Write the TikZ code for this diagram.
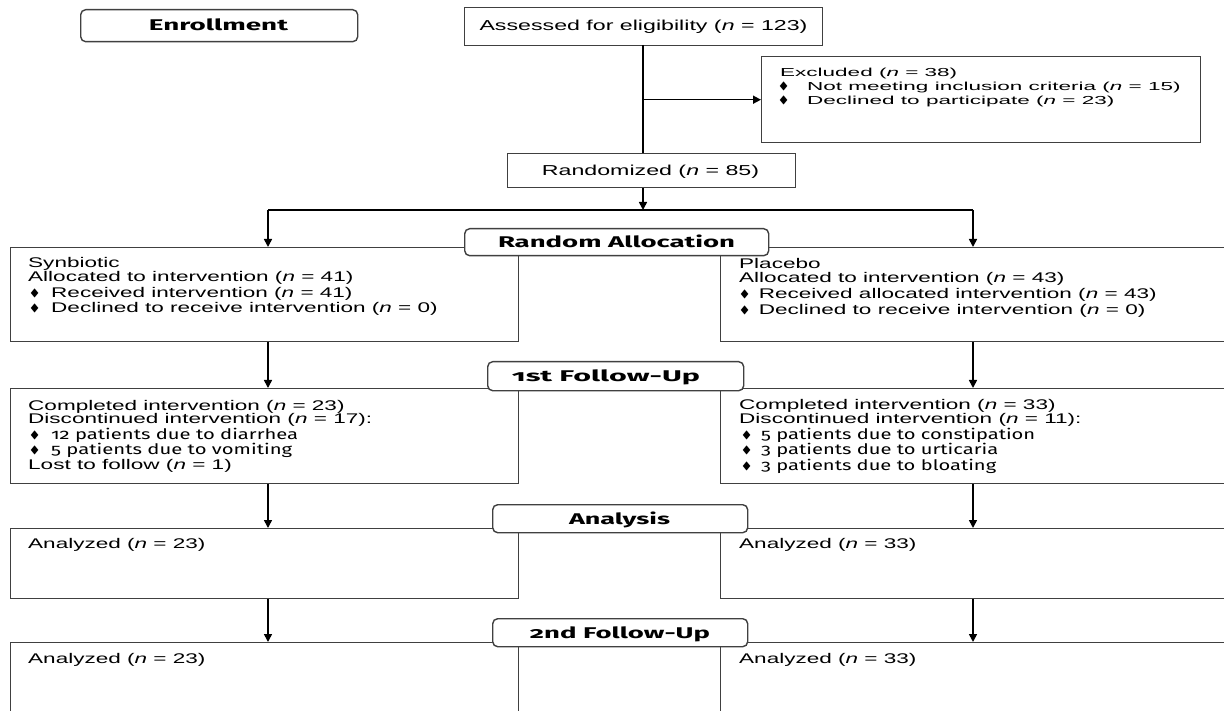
\documentclass[tikz,border=0pt]{standalone}
\usepackage{fontspec}
\usepackage{amssymb}
\usepackage{graphicx}
\setmainfont{Liberation Sans}
\newfontfamily\hfont[Numbers=OldStyle]{Fira Sans}
\usetikzlibrary{arrows.meta}
\newcommand{\sx}[1]{\scalebox{1.61}[1]{#1}}
\newcommand{\ex}[1]{\scalebox{1.94}[1]{#1}}
\newcommand{\fw}[2]{\resizebox{#1pt}{\height}{\hfont\fontsize{14.5}{16}\selectfont #2}}
\newcommand{\hw}[2]{\resizebox{#1pt}{\height}{\hfont\bfseries\fontsize{15.5}{17}\selectfont #2}}
\newcommand{\blt}{\raisebox{1pt}{\scalebox{1.3}[1]{\fontsize{10.5}{10}\selectfont$\blacklozenge$}}}
\newcommand{\nn}{\textit{n}}
\tikzset{
  box/.style={draw=black!75, line width=1.4pt, rectangle, inner sep=0pt, anchor=north west},
  hdr/.style={draw=black!75, line width=1.4pt, rounded corners=5pt, fill=white, rectangle, inner sep=0pt, anchor=north west},
  htxt/.style={anchor=base, inner sep=0pt},
  txt/.style={anchor=base west, inner sep=0pt, font=\fontsize{14}{16}\selectfont},
  etxt/.style={anchor=base west, inner sep=0pt, font=\fontsize{11.6}{14}\selectfont},
  ctxt/.style={anchor=base, inner sep=0pt, font=\fontsize{14.4}{16}\selectfont},
  ln/.style={line width=1.6pt, black},
  arr/.style={line width=1.6pt, black, -{Triangle[length=8pt,width=8pt]}},
}
\begin{document}
\begin{tikzpicture}[x=1pt,y=-1pt]
\useasboundingbox (0,0) rectangle (1224,711);
\fill[white] (0,0) rectangle (1224,711);
\clip (0,0) rectangle (1224,711);

% boxes
\node[box, minimum width=358pt, minimum height=38pt] (assess) at (464,7) {};
\node[box, minimum width=439pt, minimum height=86pt] (excl) at (761,56) {};
\node[box, minimum width=288pt, minimum height=34pt] (rand) at (507,153) {};
\node[box, minimum width=508pt, minimum height=94pt] (syn) at (10,247) {};
\node[box, minimum width=520pt, minimum height=94pt] (plc) at (720,247) {};
\node[box, minimum width=508pt, minimum height=95pt] (comp1) at (10,388) {};
\node[box, minimum width=520pt, minimum height=95pt] (comp2) at (720,388) {};
\node[box, minimum width=508pt, minimum height=70pt] (an1) at (10,528) {};
\node[box, minimum width=520pt, minimum height=70pt] (an2) at (720,528) {};
\node[box, minimum width=508pt, minimum height=90pt] (fu1) at (10,642) {};
\node[box, minimum width=520pt, minimum height=90pt] (fu2) at (720,642) {};

% connector points
\coordinate (top) at (643,45);
\coordinate (split) at (643,210);
\coordinate (L) at (268,210);
\coordinate (R) at (973,210);

\draw[ln] (top) -- (top |- rand.north);
\draw[arr] (top |- excl.west) -- (excl.west);
\draw[arr] (top |- rand.south) -- (split);
\draw[ln] (L) -- (R);
\draw[arr] (L) -- (L |- syn.north);
\draw[arr] (R) -- (R |- plc.north);
\draw[arr] (L |- syn.south) -- (L |- comp1.north);
\draw[arr] (R |- plc.south) -- (R |- comp2.north);
\draw[arr] (L |- comp1.south) -- (L |- an1.north);
\draw[arr] (R |- comp2.south) -- (R |- an2.north);
\draw[arr] (L |- an1.south) -- (L |- fu1.north);
\draw[arr] (R |- an2.south) -- (R |- fu2.north);

% header boxes
\node[hdr, minimum width=277pt, minimum height=32pt] (enr) at (80,9) {};
\node[hdr, minimum width=304pt, minimum height=27pt] (ralloc) at (464,228) {};
\node[hdr, minimum width=256pt, minimum height=29pt] (fup1) at (487,361) {};
\node[hdr, minimum width=255pt, minimum height=28pt] (anal) at (492,504) {};
\node[hdr, minimum width=255pt, minimum height=28pt] (fup2) at (492,618) {};

\node[htxt] (enr-t) at (218.5,31) {\hw{139}{Enrollment}};
\node[htxt] (ralloc-t) at (616.5,247.5) {\hw{237}{Random Allocation}};
\node[htxt] (fup1-t) at (606,381.5) {\hw{188}{1st Follow-Up}};
\node[htxt] (anal-t) at (619.5,524) {\hw{101}{Analysis}};
\node[htxt] (fup2-t) at (620,638) {\hw{180}{2nd Follow-Up}};

% texts
\node[ctxt] (assess-t) at (643.5,31) {\sx{Assessed for eligibility (\nn{} = 123)}};
\node[etxt] (excl-t1) at (780,77) {\ex{Excluded (\nn{} = 38)}};
\node[etxt] (excl-t2) at (779,91) {\makebox[28pt][l]{\blt}\ex{Not meeting inclusion criteria (\nn{} = 15)}};
\node[etxt] (excl-t3) at (779,105) {\makebox[28pt][l]{\blt}\ex{Declined to participate (\nn{} = 23)}};
\node[ctxt] (rand-t) at (650.5,176) {\sx{Randomized (\nn{} = 85)}};

\node[txt] (syn-t1) at (28,268) {\sx{Synbiotic}};
\node[txt] (syn-t2) at (28,282) {\sx{Allocated to intervention (\nn{} = 41)}};
\node[txt] (syn-t3) at (30,298) {\makebox[21pt][l]{\blt}\sx{Received intervention (\nn{} = 41)}};
\node[txt] (syn-t4) at (30,313) {\makebox[21pt][l]{\blt}\sx{Declined to receive intervention (\nn{} = 0)}};

\node[txt] (plc-t1) at (739,269) {\sx{Placebo}};
\node[txt] (plc-t2) at (739,283) {\sx{Allocated to intervention (\nn{} = 43)}};
\node[txt] (plc-t3) at (740,299) {\makebox[18.6pt][l]{\blt}\sx{Received allocated intervention (\nn{} = 43)}};
\node[txt] (plc-t4) at (740,315) {\makebox[18.6pt][l]{\blt}\sx{Declined to receive intervention (\nn{} = 0)}};

\node[txt] (c1-t1) at (28,410) {\sx{Completed intervention (\nn{} = 23)}};
\node[txt] (c1-t2) at (28,423) {\sx{Discontinued intervention (\nn{} = 17):}};
\node[txt] (c1-t3) at (30,439) {\makebox[21pt][l]{\blt}\fw{247}{12 patients due to diarrhea}};
\node[txt] (c1-t4) at (30,454) {\makebox[21pt][l]{\blt}\fw{241}{5 patients due to vomiting}};
\node[txt] (c1-t5) at (28,469) {\sx{Lost to follow (\nn{} = 1)}};

\node[txt] (c2-t1) at (739,409) {\sx{Completed intervention (\nn{} = 33)}};
\node[txt] (c2-t2) at (739,423) {\sx{Discontinued intervention (\nn{} = 11):}};
\node[txt] (c2-t3) at (742,439) {\makebox[19pt][l]{\blt}\fw{274}{5 patients due to constipation}};
\node[txt] (c2-t4) at (742,454) {\makebox[19pt][l]{\blt}\fw{237}{3 patients due to urticaria}};
\node[txt] (c2-t5) at (742,470) {\makebox[19pt][l]{\blt}\fw{235}{3 patients due to bloating}};

\node[txt] (an1-t) at (28,548) {\sx{Analyzed (\nn{} = 23)}};
\node[txt] (an2-t) at (739,548) {\sx{Analyzed (\nn{} = 33)}};
\node[txt] (fu1-t) at (28,663) {\sx{Analyzed (\nn{} = 23)}};
\node[txt] (fu2-t) at (739,663) {\sx{Analyzed (\nn{} = 33)}};
\end{tikzpicture}
\end{document}
